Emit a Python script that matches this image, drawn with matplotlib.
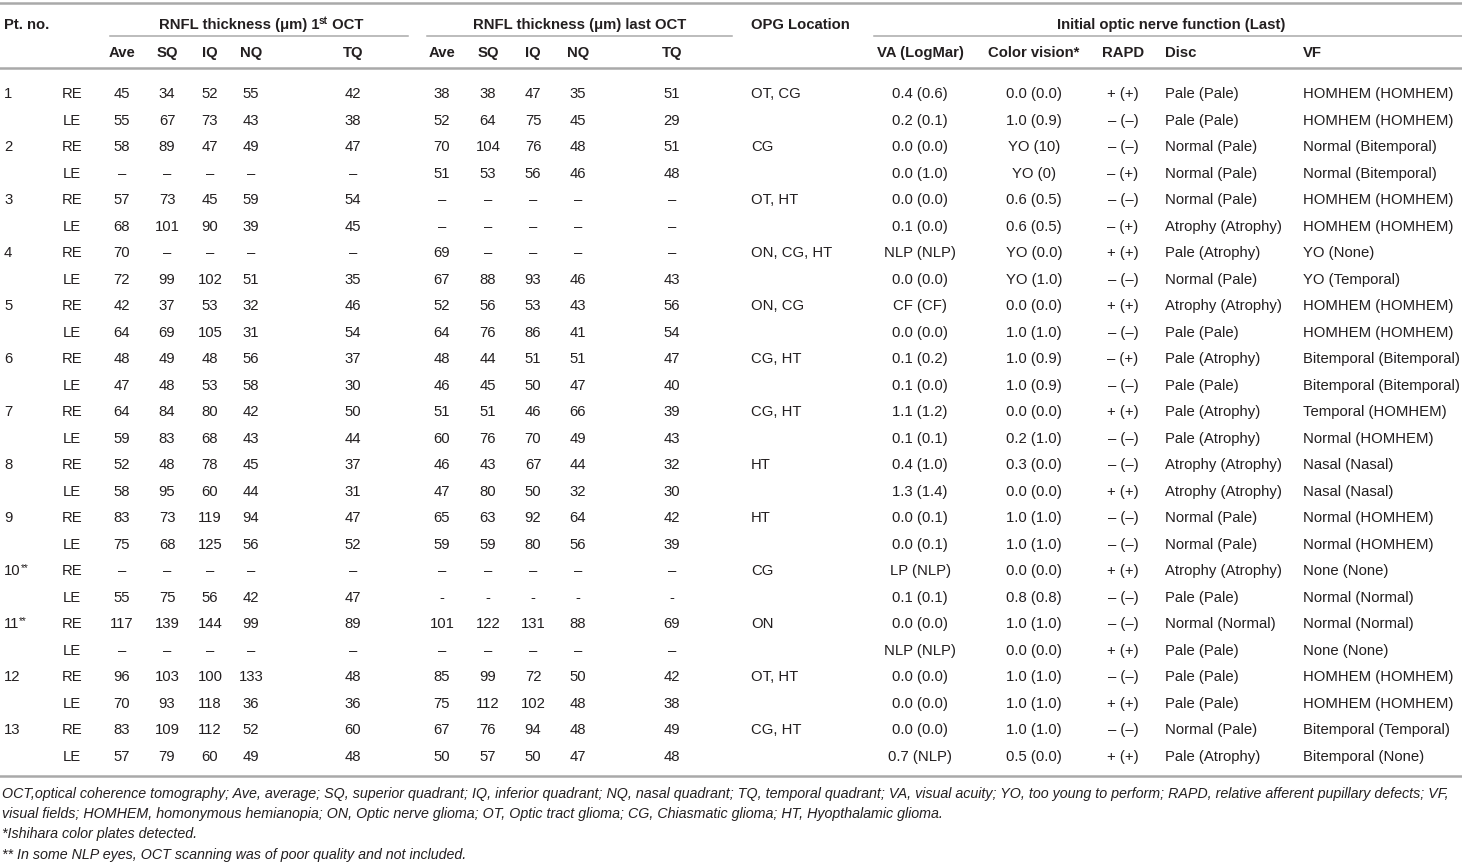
import numpy as np
import matplotlib.pyplot as plt
from matplotlib import font_manager

#Narrow Helvetica-like face if present, else regular width at a smaller size
installed = {f.name for f in font_manager.fontManager.ttflist}
if 'Liberation Sans Narrow' in installed:
    family, fs = 'Liberation Sans Narrow', 13
else:
    family, fs = 'Liberation Sans', 10.7
plt.rcParams['font.family'] = [family, 'DejaVu Sans']

D = '–'   # missing value
H = '-'   # hyphen used in one row

#Patients
pt_no = ['1', '2', '3', '4', '5', '6', '7', '8', '9', '10', '11', '12', '13']
pt_note = ['', '', '', '', '', '', '', '', '', '**', '**', '', '']
eyes = ['RE', 'LE']
opg = ['OT, CG', 'CG', 'OT, HT', 'ON, CG, HT', 'ON, CG', 'CG, HT', 'CG, HT',
       'HT', 'HT', 'CG', 'ON', 'OT, HT', 'CG, HT']

#RNFL thickness 1st OCT (RE, LE per patient)
ave1 = [45, 55, 58, D, 57, 68, 70, 72, 42, 64, 48, 47, 64, 59, 52, 58, 83, 75, D, 55, 117, D, 96, 70, 83, 57]
sq1 = [34, 67, 89, D, 73, 101, D, 99, 37, 69, 49, 48, 84, 83, 48, 95, 73, 68, D, 75, 139, D, 103, 93, 109, 79]
iq1 = [52, 73, 47, D, 45, 90, D, 102, 53, 105, 48, 53, 80, 68, 78, 60, 119, 125, D, 56, 144, D, 100, 118, 112, 60]
nq1 = [55, 43, 49, D, 59, 39, D, 51, 32, 31, 56, 58, 42, 43, 45, 44, 94, 56, D, 42, 99, D, 133, 36, 52, 49]
tq1 = [42, 38, 47, D, 54, 45, D, 35, 46, 54, 37, 30, 50, 44, 37, 31, 47, 52, D, 47, 89, D, 48, 36, 60, 48]

#RNFL thickness last OCT
ave2 = [38, 52, 70, 51, D, D, 69, 67, 52, 64, 48, 46, 51, 60, 46, 47, 65, 59, D, H, 101, D, 85, 75, 67, 50]
sq2 = [38, 64, 104, 53, D, D, D, 88, 56, 76, 44, 45, 51, 76, 43, 80, 63, 59, D, H, 122, D, 99, 112, 76, 57]
iq2 = [47, 75, 76, 56, D, D, D, 93, 53, 86, 51, 50, 46, 70, 67, 50, 92, 80, D, H, 131, D, 72, 102, 94, 50]
nq2 = [35, 45, 48, 46, D, D, D, 46, 43, 41, 51, 47, 66, 49, 44, 32, 64, 56, D, H, 88, D, 50, 48, 48, 47]
tq2 = [51, 29, 51, 48, D, D, D, 43, 56, 54, 47, 40, 39, 43, 32, 30, 42, 39, D, H, 69, D, 42, 38, 49, 48]

#Optic nerve function
va = ['0.4 (0.6)', '0.2 (0.1)', '0.0 (0.0)', '0.0 (1.0)', '0.0 (0.0)', '0.1 (0.0)', 'NLP (NLP)', '0.0 (0.0)',
      'CF (CF)', '0.0 (0.0)', '0.1 (0.2)', '0.1 (0.0)', '1.1 (1.2)', '0.1 (0.1)', '0.4 (1.0)', '1.3 (1.4)',
      '0.0 (0.1)', '0.0 (0.1)', 'LP (NLP)', '0.1 (0.1)', '0.0 (0.0)', 'NLP (NLP)', '0.0 (0.0)', '0.0 (0.0)',
      '0.0 (0.0)', '0.7 (NLP)']
color_vision = ['0.0 (0.0)', '1.0 (0.9)', 'YO (10)', 'YO (0)', '0.6 (0.5)', '0.6 (0.5)', 'YO (0.0)', 'YO (1.0)',
                '0.0 (0.0)', '1.0 (1.0)', '1.0 (0.9)', '1.0 (0.9)', '0.0 (0.0)', '0.2 (1.0)', '0.3 (0.0)',
                '0.0 (0.0)', '1.0 (1.0)', '1.0 (1.0)', '0.0 (0.0)', '0.8 (0.8)', '1.0 (1.0)', '0.0 (0.0)',
                '1.0 (1.0)', '1.0 (1.0)', '1.0 (1.0)', '0.5 (0.0)']
P, M, MP = '+ (+)', '– (–)', '– (+)'
rapd = [P, M, M, MP, M, MP, P, M, P, M, MP, M, P, M, M, P, M, M, P, M, M, P, M, P, M, P]
disc = ['Pale (Pale)', 'Pale (Pale)', 'Normal (Pale)', 'Normal (Pale)', 'Normal (Pale)', 'Atrophy (Atrophy)',
        'Pale (Atrophy)', 'Normal (Pale)', 'Atrophy (Atrophy)', 'Pale (Pale)', 'Pale (Atrophy)', 'Pale (Pale)',
        'Pale (Atrophy)', 'Pale (Atrophy)', 'Atrophy (Atrophy)', 'Atrophy (Atrophy)', 'Normal (Pale)',
        'Normal (Pale)', 'Atrophy (Atrophy)', 'Pale (Pale)', 'Normal (Normal)', 'Pale (Pale)', 'Pale (Pale)',
        'Pale (Pale)', 'Normal (Pale)', 'Pale (Atrophy)']
vf = ['HOMHEM (HOMHEM)', 'HOMHEM (HOMHEM)', 'Normal (Bitemporal)', 'Normal (Bitemporal)', 'HOMHEM (HOMHEM)',
      'HOMHEM (HOMHEM)', 'YO (None)', 'YO (Temporal)', 'HOMHEM (HOMHEM)', 'HOMHEM (HOMHEM)',
      'Bitemporal (Bitemporal)', 'Bitemporal (Bitemporal)', 'Temporal (HOMHEM)', 'Normal (HOMHEM)',
      'Nasal (Nasal)', 'Nasal (Nasal)', 'Normal (HOMHEM)', 'Normal (HOMHEM)', 'None (None)', 'Normal (Normal)',
      'Normal (Normal)', 'None (None)', 'HOMHEM (HOMHEM)', 'HOMHEM (HOMHEM)', 'Bitemporal (Temporal)',
      'Bitemporal (None)']

footnotes = [
    'OCT,optical coherence tomography; Ave, average; SQ, superior quadrant; IQ, inferior quadrant; NQ, nasal quadrant; '
    'TQ, temporal quadrant; VA, visual acuity; YO, too young to perform; RAPD, relative afferent pupillary defects; VF,',
    'visual fields; HOMHEM, homonymous hemianopia; ON, Optic nerve glioma; OT, Optic tract glioma; CG, Chiasmatic '
    'glioma; HT, Hyopthalamic glioma.',
    '*Ishihara color plates detected.',
    '** In some NLP eyes, OCT scanning was of poor quality and not included.',
]

#Layout
W, Hpx = 1462, 865
txt = '#231f20'
rule = '#a9a9a9'
y_row0 = 92
dy_row = 26.52
base = 6.0   # center -> baseline

fig = plt.figure(figsize=(W/100, Hpx/100), dpi=100)
ax = fig.add_axes([0, 0, 1, 1])
ax.set_xlim(0, W)
ax.set_ylim(Hpx, 0)
ax.axis('off')
rend = fig.canvas.get_renderer()


def width_of(s, size, weight='normal', style='normal'):
    t = ax.text(0, 0, s, fontsize=size, weight=weight, style=style)
    w = t.get_window_extent(rend).width
    t.remove()
    return w


def pieces(x, yb, parts, ha='left', weight='normal'):
    #parts: (text, size, raise in px)
    ws = [width_of(s, sz, weight) for s, sz, r in parts]
    x0 = x - sum(ws)/2 if ha == 'center' else x
    for (s, sz, r), w in zip(parts, ws):
        ax.text(x0, yb - r, s, fontsize=sz, weight=weight, color=txt, va='baseline')
        x0 += w


#Rules
ax.plot([0, W], [3, 3], color=rule, lw=1.8)
ax.plot([0, W], [68, 68], color=rule, lw=1.8)
ax.plot([0, W], [776, 776], color=rule, lw=1.8)
for x1, x2 in [(110, 408), (427, 732), (874, W)]:
    ax.plot([x1, x2], [36, 36], color=rule, lw=1.1)

#Header
hy = 23 + base
ax.text(4, hy, 'Pt. no.', fontsize=fs, weight='bold', color=txt, va='baseline')
pieces(261, hy, [('RNFL thickness (μm) 1', fs, 0), ('st', fs*0.68, 5), (' OCT', fs, 0)], ha='center', weight='bold')
ax.text(580, hy, 'RNFL thickness (μm) last OCT', fontsize=fs, weight='bold', color=txt, va='baseline', ha='center')
ax.text(751, hy, 'OPG Location', fontsize=fs, weight='bold', color=txt, va='baseline')
ax.text(1171, hy, 'Initial optic nerve function (Last)', fontsize=fs, weight='bold', color=txt, va='baseline', ha='center')

num_cols = [ave1, sq1, iq1, nq1, tq1, ave2, sq2, iq2, nq2, tq2]
num_heads = ['Ave', 'SQ', 'IQ', 'NQ', 'TQ'] * 2
num_x = [122, 167, 210, 251, 353, 442, 488, 533, 578, 672]
txt_cols = [(va, 'VA (LogMar)', 920, 'center'), (color_vision, 'Color vision*', 1034, 'center'),
            (rapd, 'RAPD', 1123, 'center'), (disc, 'Disc', 1165, 'left'), (vf, 'VF', 1303, 'left')]

sy = 51 + base
for h, x in zip(num_heads, num_x):
    ax.text(x, sy, h, fontsize=fs, weight='bold', color=txt, va='baseline', ha='center')
for col, h, x, ha in txt_cols:
    ax.text(x, sy, h, fontsize=fs, weight='bold', color=txt, va='baseline', ha=ha)

#Body
for i in range(len(ave1)):
    yb = y_row0 + i*dy_row + base
    p = i // 2
    if i % 2 == 0:
        if pt_note[p]:
            pieces(4, yb, [(pt_no[p], fs, 0), (pt_note[p], fs*0.68, 4)])
        else:
            ax.text(4, yb, pt_no[p], fontsize=fs, color=txt, va='baseline')
        ax.text(751, yb, opg[p], fontsize=fs, color=txt, va='baseline')
    ax.text(72, yb, eyes[i % 2], fontsize=fs, color=txt, va='baseline', ha='center')
    for col, x in zip(num_cols, num_x):
        ax.text(x, yb, str(col[i]), fontsize=fs, color=txt, va='baseline', ha='center')
    for col, h, x, ha in txt_cols:
        ax.text(x, yb, col[i], fontsize=fs, color=txt, va='baseline', ha=ha)

#Footnotes, sized so the first line fills the width
ffs = 10 * 1456 / width_of(footnotes[0], 10, style='italic')
for k, line in enumerate(footnotes):
    ax.text(2, 793 + 20.2*k + 5, line, fontsize=ffs, style='italic', color=txt, va='baseline')

fig.savefig('out.png', dpi=100)
